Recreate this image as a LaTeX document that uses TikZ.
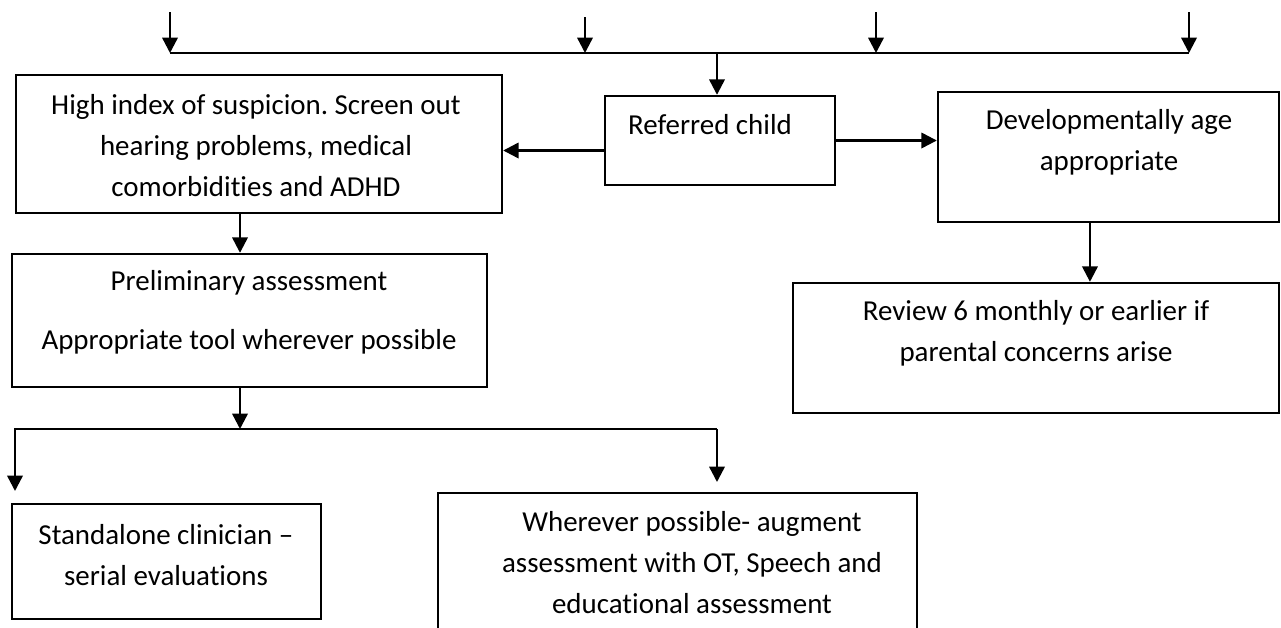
\documentclass[tikz,border=0pt]{standalone}
\usepackage{fontspec}
\setmainfont[Ligatures=NoCommon]{Carlito}
\usetikzlibrary{arrows.meta,fit}
\frenchspacing
\begin{document}
\begin{tikzpicture}[x=0.75pt,y=-0.75pt,
  box/.style={draw=black, line width=1.8pt, inner sep=0pt},
  txt/.style={align=center, font=\fontsize{21.7}{30.75}\selectfont, inner sep=0pt},
  ln/.style={line width=1.8pt},
  arr/.style={line width=1.8pt, -{Triangle[length=11.5pt,width=11.5pt]}}]
\clip (0,0) rectangle (1281,628);
\fill[white] (0,0) rectangle (1281,628);

% boxes
\node[box, fit={(16,75)(502,213)}] (high) {};
\node[box, fit={(605,96)(835,185)}] (ref) {};
\node[box, fit={(938,92)(1279,222)}] (dev) {};
\node[box, fit={(793,283)(1279,413)}] (rev) {};
\node[box, fit={(12,254)(487,387)}] (pre) {};
\node[box, fit={(12,504)(321,619)}] (alone) {};
\node[box, fit={(438,493)(917,660)}] (aug) {};

% box texts
\node[txt] (high-t) at (256,146) {High index of suspicion. Screen out\\hearing problems, medical\\comorbidities and ADHD};
\node[txt] (ref-t) at (710,125) {Referred child};
\node[txt] (dev-t) at (1109,142) {Developmentally age\\appropriate};
\node[txt] (rev-t) at (1036,333) {Review 6 monthly or earlier if\\parental concerns arise};
\node[txt] (pre-t) at (249,312) {Preliminary assessment\\[13.5pt]Appropriate tool wherever possible};
\node[txt] (alone-t) at (166,555) {Standalone clinician --\\serial evaluations};
\node[txt] (aug-t) at (692,563) {Wherever possible- augment\\assessment with OT, Speech and\\educational assessment};

% incoming arrows onto the top bus
\coordinate (busL) at (170,53);
\coordinate (busR) at (1189,53);
\coordinate (busM) at (717,53);
\coordinate (in1) at (170,12);
\coordinate (in2) at (585,17);
\coordinate (in3) at (876,12);
\coordinate (in4) at (1189,12);
\draw[ln] (busL) -- (busR);
\draw[arr] (in1) -- (in1 |- busL);
\draw[arr] (in2) -- (in2 |- busL);
\draw[arr] (in3) -- (in3 |- busL);
\draw[arr] (in4) -- (in4 |- busL);
\draw[arr] (busM) -- (busM |- ref.north);

% from the referred child
\draw[arr] ([yshift=-7.5pt]ref.west) -- ([yshift=-7.5pt]ref.west -| high.east);
\draw[arr] (ref.east) -- (ref.east -| dev.west);
\draw[arr] ([xshift=-13.9pt]dev.south) -- ([xshift=-13.9pt]dev.south |- rev.north);
\draw[arr] ([xshift=-14.25pt]high.south) -- ([xshift=-14.25pt]high.south |- pre.north);

% branch below the preliminary assessment
\coordinate (br) at (240,429);
\coordinate (brL) at (15,429);
\coordinate (brR) at (717,429);
\coordinate (endL) at (15,491);
\coordinate (endR) at (717,482);
\draw[arr] (pre.south -| br) -- (br);
\draw[arr] (brR) -- (brL) -- (endL);
\draw[arr] (brR) -- (endR);
\end{tikzpicture}
\end{document}
